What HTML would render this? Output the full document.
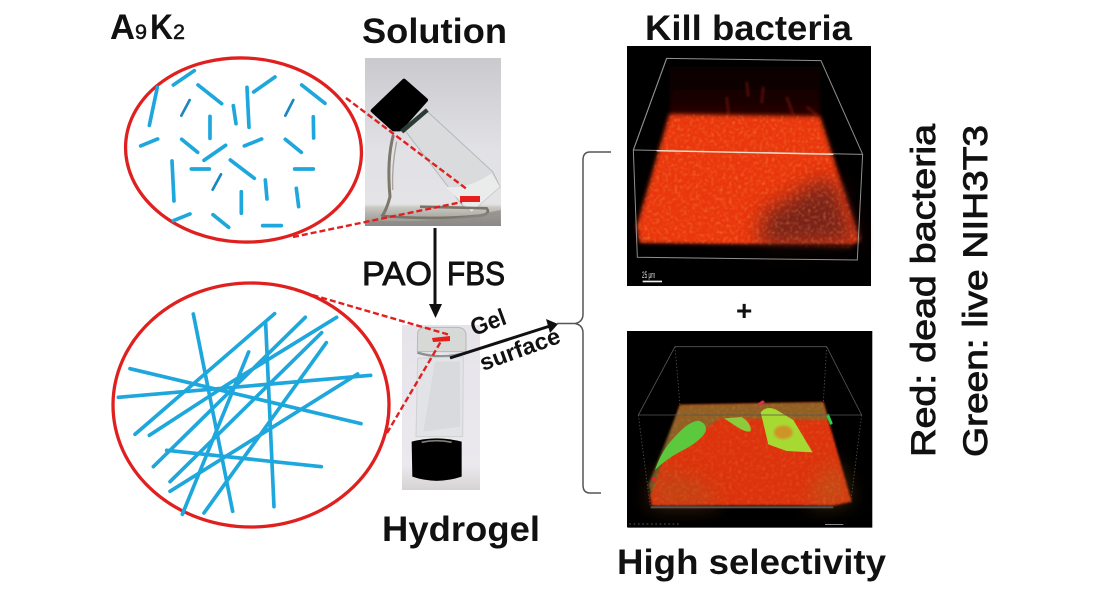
<!DOCTYPE html>
<html><head><meta charset="utf-8"><style>
html,body{margin:0;padding:0;background:#fff;width:1100px;height:591px;overflow:hidden}
svg{display:block}
text{font-family:"Liberation Sans",sans-serif;fill:#111;font-weight:bold}
.r{font-weight:normal;stroke:#111;stroke-width:.9}
.s{font-weight:normal;stroke:#111;stroke-width:.5}
</style></head><body>
<svg width="1100" height="591" viewBox="0 0 1100 591" xmlns="http://www.w3.org/2000/svg">
<defs>
<filter id="b1" x="-10%" y="-10%" width="120%" height="120%"><feGaussianBlur stdDeviation="1"/></filter>
<filter id="b2" x="-20%" y="-20%" width="140%" height="140%"><feGaussianBlur stdDeviation="6"/></filter>
<filter id="b3" x="-20%" y="-20%" width="140%" height="140%"><feGaussianBlur stdDeviation="3"/></filter>
<filter id="b4" x="-40%" y="-40%" width="180%" height="180%"><feGaussianBlur stdDeviation="30"/></filter>
<filter id="noise" x="0" y="0" width="100%" height="100%">
<feTurbulence type="fractalNoise" baseFrequency="0.11" numOctaves="3" seed="4"/>
<feColorMatrix values="0 0 0 0 1  0 0 0 0 0.68  0 0 0 0 0.12  2 0 0 0 -0.95"/>
<feComposite in2="SourceAlpha" operator="in"/>
<feGaussianBlur stdDeviation="1.5"/>
</filter>
<linearGradient id="g1" x1="0" y1="0" x2="0" y2="1">
<stop offset="0" stop-color="#c9c9ce"/><stop offset=".55" stop-color="#e1e1e6"/><stop offset=".87" stop-color="#e4e4e6"/><stop offset=".89" stop-color="#c9c7c2"/><stop offset="1" stop-color="#8f8d88"/>
</linearGradient>
<linearGradient id="g2" x1="0" y1="0" x2="0" y2="1">
<stop offset="0" stop-color="#e6e3ea"/><stop offset=".85" stop-color="#ebe9ee"/><stop offset="1" stop-color="#d6d3d2"/>
</linearGradient>
<linearGradient id="top1" x1="0" y1="0" x2="0" y2="1">
<stop offset="0" stop-color="#050000"/><stop offset=".6" stop-color="#140101"/><stop offset="1" stop-color="#2c0302"/>
</linearGradient>
<clipPath id="c1"><rect x="0" y="0" width="760" height="742"/></clipPath>
<clipPath id="c2"><rect x="0" y="0" width="760" height="610"/></clipPath>
</defs>

<!-- photo 1 -->
<rect x="365" y="58" width="136" height="168" fill="url(#g1)"/>
<g transform="translate(350,40) scale(.3333)" filter="url(#b1)">
<path d="M160 265 L225 208 L428 395 L450 440 L365 515 L340 500 Z" fill="#d9dbdc" stroke="#b4b8b7" stroke-width="3"/>
<path d="M285 440 Q350 450 425 400 L450 440 L365 515 Z" fill="#e9eceb"/>
<path d="M68 212 L162 122 L228 180 L150 268 L130 268 Z" fill="#050505" stroke="#050505" stroke-width="12" stroke-linejoin="round"/>
<path d="M150 270 L228 205 L236 215 L160 280 Z" fill="#2c3a34"/>
<path d="M130 285 Q110 360 120 470 Q110 510 95 530" fill="none" stroke="#7d776c" stroke-width="9"/>
<path d="M140 305 Q125 380 128 450" fill="none" stroke="#a8a298" stroke-width="4"/>
<path d="M95 528 Q250 540 380 528 Q425 525 410 505 L210 500" fill="none" stroke="#7a756a" stroke-width="8"/>
<path d="M46 540 Q250 555 452 510 V558 H46Z" fill="#8a8884" opacity=".7"/>
</g>

<!-- photo 2 -->
<rect x="402" y="325" width="78" height="165" fill="url(#g2)"/>
<g transform="translate(380,280) scale(.3333)" filter="url(#b1)">
<path d="M113 160 Q115 142 140 142 L235 142 Q260 145 258 170 L258 215 L112 215 Z" fill="#d6d9d5" stroke="#b5b9b7" stroke-width="3"/>
<path d="M112 218 Q185 240 258 218" fill="none" stroke="#8b918f" stroke-width="7"/>
<path d="M113 235 L108 470 L248 470 L250 230 Z" fill="#e2e3e6" stroke="#cfd1d2" stroke-width="3"/>
<path d="M165 245 L240 245 L240 440 L130 455 Z" fill="#d8dadd"/>
<path d="M95 485 Q170 465 245 485 L245 590 Q170 615 97 590 Z" fill="#060606"/>
<path d="M125 487 Q170 477 215 487" fill="none" stroke="#7f8073" stroke-width="5"/>
</g>

<!-- ellipses -->
<ellipse cx="243.500" cy="150" rx="118" ry="92" fill="#fff" stroke="#e0201f" stroke-width="3.300" transform="rotate(3 243.500 150)"/>
<ellipse cx="251" cy="405" rx="138" ry="122" fill="#fff" stroke="#e0201f" stroke-width="3.300"/>

<!-- short sticks -->
<g transform="translate(100,0) scale(.3333)" stroke="#1ea7dc" stroke-width="11" stroke-linecap="round" fill="none">
<path d="M220 255L283 212M172 262L148 376M294 255L365 311M525 231L461 276M441 262L447 382M605 255L675 310M400 317L408 371M330 349L330 415M640 350L641 414M122 438L173 417M245 418L293 457M312 481L377 436M433 438L485 417M556 418L604 457M216 483L222 603M274 507L328 507M391 480L463 535M584 507L640 507M496 540L501 597M424 575L424 640M589 565L596 620M220 662L270 642M339 644L386 682M488 677L544 677"/>
<path d="M269 300L244 347M580 300L556 347M363 523L338 569" stroke="#1a87c0" stroke-width="8"/>
</g>

<!-- long sticks -->
<g transform="translate(100,270) scale(.3333)" stroke="#1ea7dc" stroke-width="11" stroke-linecap="round" fill="none">
<path d="M280 132L398 724M524 131L105 493M616 142L160 590M710 142L380 345L148 496M665 188L210 635M679 218L312 729M446 246L247 733M497 160L522 710M90 296L783 461M55 382L812 316M773 312L210 664M200 541L664 590"/>
</g>

<!-- red dashed -->
<g stroke="#e0201f" stroke-width="2.400" stroke-dasharray="6 3" fill="none">
<path d="M346 98L468 190M293 237L462 202M278 285L450 335M387 433L443 338"/>
</g>
<rect x="460" y="196" width="20" height="6" fill="#e5201c"/>
<path d="M432 338L450 336L450 341L433 342Z" fill="#e5201c"/>

<!-- arrows -->
<path d="M435 228V308" stroke="#111" stroke-width="3"/>
<path d="M429 304H442L435.500 318Z" fill="#111"/>
<path d="M450 358L550 326" stroke="#111" stroke-width="3"/>
<path d="M546 319L558 324L550 333Z" fill="#111"/>

<!-- brace -->
<path d="M611 152H590Q583 152 583 160V314Q583 322 575 323.500H557M575 323.500Q583 325 583 333V485Q583 493 590 493H601" fill="none" stroke="#555" stroke-width="1.500"/>

<!-- panel 1 -->
<rect x="627" y="46" width="244" height="240" fill="#000"/>
<g transform="translate(620,40) scale(.3333)" ><g clip-path="url(#c1)">
<rect x="22" y="18" width="730" height="720" fill="#000"/>
<rect x="150" y="70" width="450" height="160" fill="url(#top1)" filter="url(#b2)"/>
<g stroke="#7a1810" stroke-width="10" opacity=".5" filter="url(#b3)"><path d="M320 170L326 225M430 140L425 190M560 200L590 225M500 170L520 225M380 125L385 170"/></g>
<path d="M148 222L600 228L720 600L690 625L60 610L50 560Z" fill="#ea3510" filter="url(#b2)"/>
<path d="M430 520L600 420L650 430L715 610L420 625Z" fill="#5e1a1c" opacity=".8" filter="url(#b4)"/>
<path d="M148 222L600 228L720 600L690 625L60 610L50 560Z" fill="#000" filter="url(#noise)" opacity=".4"/>
<rect x="30" y="612" width="700" height="45" fill="#000" opacity=".65" filter="url(#b3)"/>
<g fill="none" stroke="#a9a9a6" stroke-width="3" opacity=".85">
<path d="M140 55L603 62L728 343L712 660L52 652L40 330Z"/>
<path d="M40 330L728 343M140 55L40 330"/>
</g>
<path d="M110 332L640 343" stroke="#eee0c8" stroke-width="4" fill="none"/>
<rect x="68" y="722" width="58" height="5" fill="#eee"/>
</g></g>
<text x="642" y="278" style="font-size:9px;font-weight:normal;fill:#ddd" textLength="13" lengthAdjust="spacingAndGlyphs">25 μm</text>

<!-- panel 2 -->
<rect x="627" y="331" width="245" height="196" fill="#000"/>
<g transform="translate(620,325) scale(.3333)"><g clip-path="url(#c2)">
<rect x="22" y="18" width="735" height="590" fill="#000"/>
<path d="M180 240L610 232L695 530L640 542L95 542L90 510Z" fill="#dc3210" filter="url(#b3)"/>
<path d="M180 240L610 232L625 285L300 280L130 400L95 510L85 480Z" fill="#7f6a2a" filter="url(#b3)" opacity=".8"/>
<path d="M90 530L120 430L260 480L300 540L95 542Z" fill="#a8551e" filter="url(#b4)" opacity=".5"/>
<path d="M640 400L695 530L560 540Z" fill="#a86a24" filter="url(#b4)" opacity=".5"/>
<path d="M180 240L610 232L695 530L640 542L95 542L90 510Z" fill="#000" filter="url(#noise)" opacity=".22"/>
<path d="M105 435Q125 375 165 335Q205 290 235 287Q262 295 257 320Q240 350 190 375Q140 400 105 435Z" fill="#5bc83c" filter="url(#b1)"/>
<path d="M312 280L365 276Q395 295 392 318Q380 325 350 305Z" fill="#8ccb3a" filter="url(#b1)"/>
<path d="M422 262Q440 240 470 255L520 285L578 382L500 378L445 358Z" fill="#a8d832" filter="url(#b1)"/>
<ellipse cx="490" cy="322" rx="28" ry="20" fill="#cf9428" filter="url(#b3)"/>
<path d="M622 268L635 298" stroke="#2fd04a" stroke-width="9" filter="url(#b1)"/>
<path d="M415 240L432 228" stroke="#d83040" stroke-width="9" filter="url(#b1)"/>
<circle cx="102" cy="462" r="6" fill="#e8202c"/>
<g fill="none" stroke="#555" stroke-width="2.500">
<path d="M165 65H620L725 270H55Z"/>
<path d="M55 270L90 540M725 270L692 535M165 65L180 240M620 65L610 232" stroke-dasharray="4 6"/>
</g>
<rect x="92" y="544" width="548" height="6" fill="#555"/>
<rect x="615" y="597" width="55" height="3" fill="#888"/>
<path d="M28 597H180" stroke="#777" stroke-width="2" stroke-dasharray="5 8"/>
</g></g>

<!-- labels -->
<text x="110" y="39" font-size="35" textLength="25" lengthAdjust="spacingAndGlyphs">A</text>
<text x="135" y="39" font-size="21" class="s" textLength="12" lengthAdjust="spacingAndGlyphs">9</text>
<text x="150" y="39" font-size="35" textLength="23" lengthAdjust="spacingAndGlyphs">K</text>
<text x="173" y="39" font-size="21" class="s" textLength="12" lengthAdjust="spacingAndGlyphs">2</text>
<text x="362" y="43" font-size="35" textLength="145" lengthAdjust="spacingAndGlyphs">Solution</text>
<text x="645" y="40" font-size="35" textLength="207" lengthAdjust="spacingAndGlyphs">Kill bacteria</text>
<text x="362" y="285" font-size="33" class="r" textLength="70" lengthAdjust="spacingAndGlyphs">PAO</text>
<text x="447" y="285" font-size="33" class="r" textLength="58" lengthAdjust="spacingAndGlyphs">FBS</text>
<text x="382" y="541" font-size="35" textLength="158" lengthAdjust="spacingAndGlyphs">Hydrogel</text>
<text x="617" y="574" font-size="35" textLength="269" lengthAdjust="spacingAndGlyphs">High selectivity</text>
<text x="736" y="320" font-size="28">+</text>
<text transform="translate(474,336) rotate(-20)" font-size="24" textLength="36" lengthAdjust="spacingAndGlyphs">Gel</text>
<text transform="translate(483,371) rotate(-20)" font-size="23" textLength="84" lengthAdjust="spacingAndGlyphs">surface</text>
<text transform="translate(935,457) rotate(-90)" font-size="34" class="r" textLength="333" lengthAdjust="spacingAndGlyphs">Red: dead bacteria</text>
<text transform="translate(987,457) rotate(-90)" font-size="34" class="r" textLength="332" lengthAdjust="spacingAndGlyphs">Green: live NIH3T3</text>
</svg>
</body></html>
